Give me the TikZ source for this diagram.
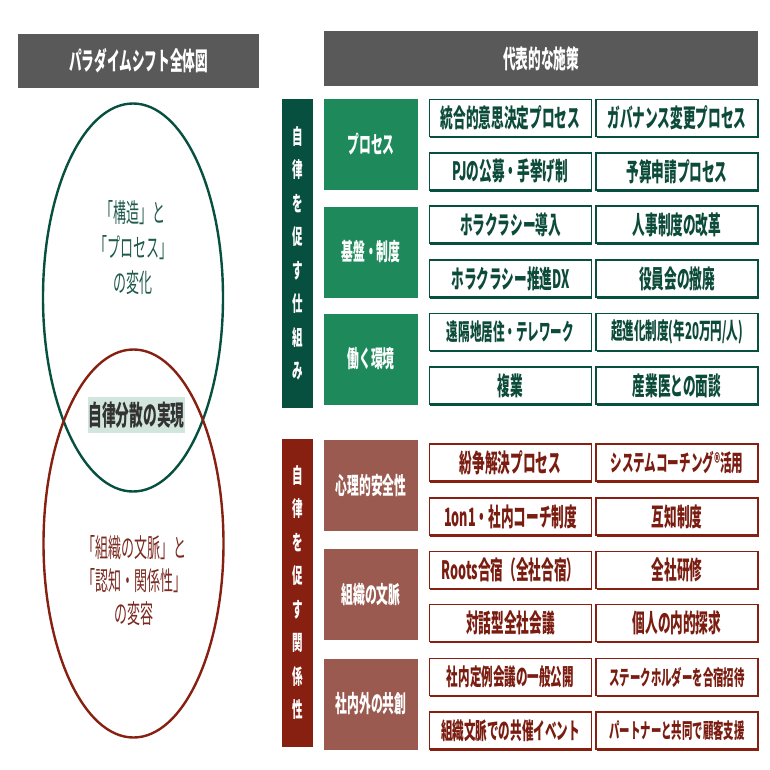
\documentclass[tikz,border=0pt]{standalone}
\usepackage{fontspec}
\setmainfont{Noto Sans CJK JP}[FakeStretch=0.5]
\usetikzlibrary{shapes.geometric,shadows}

\definecolor{grayhead}{HTML}{595959}
\definecolor{pinedark}{HTML}{07503F}
\definecolor{pinemid}{HTML}{1E8A5C}
\definecolor{pinetext}{HTML}{0C4A3A}
\definecolor{pineline}{HTML}{1F5A4C}
\definecolor{brickdark}{HTML}{872010}
\definecolor{brickmid}{HTML}{9B5A50}
\definecolor{bricktext}{HTML}{7A1C10}
\definecolor{brickline}{HTML}{7A2A20}
\definecolor{corefill}{HTML}{D2E6DE}

\newcommand\itemsm{\fontsize{23.1}{23.1}\selectfont}
\newcommand\itemxs{\fontsize{20.8}{20.8}\selectfont}

\begin{document}
\begin{tikzpicture}
[x=1pt, y=-1pt,
every node/.style = {inner sep=0pt, align=center},
headbox/.style = {fill=grayhead, text=white,
	font=\fontsize{25.3}{25.3}\selectfont\bfseries},
sidebar/.style = {minimum width=31pt, minimum height=308pt, text=white,
	font=\fontsize{21}{33.5}\selectfont\bfseries},
catbox/.style = {minimum width=94pt, minimum height=91pt, text=white,
	font=\fontsize{23.6}{23.6}\selectfont\bfseries},
itembox/.style = {fill=white, line width=1.1pt, minimum width=162pt,
	minimum height=37pt, font=\fontsize{25.3}{25.3}\selectfont\bfseries},
greenitem/.style = {itembox, draw=pinedark, text=pinetext,
	drop shadow={shadow xshift=0.5pt, shadow yshift=-1.5pt, opacity=1, fill=pinedark}},
reditem/.style = {itembox, draw=brickdark, text=bricktext,
	drop shadow={shadow xshift=0.5pt, shadow yshift=-1.5pt, opacity=1, fill=brickdark}},
loop/.style = {ellipse, draw=#1, line width=2.4pt, minimum width=180pt, minimum height=388pt},
]
\useasboundingbox (0,0) rectangle (770,770);

% headers
\node[headbox, minimum width=241pt, minimum height=54pt] (hdMap) at (138.5,61) {パラダイムシフト全体図};
\node[headbox, minimum width=434pt, minimum height=55pt] (hdMeasure) at (541,58.5) {代表的な施策};

% the two loops
\node[loop=pinedark] (loopGreen) at (133,297.5) {};
\node[loop=brickdark] (loopRed) at (133.5,543.5) {};
\node[text=pineline, font=\fontsize{26}{35}\selectfont] (txtGreen) at (133,248)
	{「構造」と\\「プロセス」\\の変化};
\node[text=brickline, font=\fontsize{26}{33}\selectfont] (txtRed) at (134,581)
	{「組織の文脈」と\\「認知・関係性」\\の変容};
\node[fill=corefill, text=black!80, minimum width=97pt, minimum height=36pt,
	font=\fontsize{27.5}{27.5}\selectfont\bfseries] (core) at (136.5,415) {自律分散の実現};

% side bars
\node[sidebar, fill=pinedark] (barGreen) at (297.5,253.5) {自\\律\\を\\促\\す\\仕\\組\\み};
\node[sidebar, fill=brickdark] (barRed) at (297.5,592.5) {自\\律\\を\\促\\す\\関\\係\\性};

% categories
\node[catbox, fill=pinemid] (catProc) at (371,144.5) {プロセス};
\node[catbox, fill=pinemid] (catBase) at (371,252) {基盤・制度};
\node[catbox, fill=pinemid] (catWork) at (371,359) {働く環境};
\node[catbox, fill=brickmid] (catSafe) at (371,485) {心理的安全性};
\node[catbox, fill=brickmid] (catCtx) at (371,594.5) {組織の文脈};
\node[catbox, fill=brickmid] (catCo) at (371,704) {社内外の共創};

% measures
\foreach \y/\lt/\rt [count=\i] in {
	118/統合的意思決定プロセス/ガバナンス変更プロセス,
	171.5/PJの公募・手挙げ制/予算申請プロセス,
	224.5/ホラクラシー導入/人事制度の改革,
	278.5/ホラクラシー推進DX/役員会の撤廃,
	332/{\itemsm 遠隔地居住・テレワーク}/{\itemsm 超進化制度(年20万円/人)},
	385.5/複業/産業医との面談}
{
	\node[greenitem] (gl\i) at (510.5,\y) {\lt};
	\node[greenitem] (gr\i) at (677,\y) {\rt};
}
\foreach \y/\lt/\rt [count=\i] in {
	462.5/紛争解決プロセス/{\itemsm システムコーチング®活用},
	516.5/1on1・社内コーチ制度/互知制度,
	570/Roots合宿（全社合宿）/全社研修,
	623/対話型全社会議/個人の内的探求,
	677/{\itemsm 社内定例会議の一般公開}/{\itemxs ステークホルダーを合宿招待},
	730.5/{\itemsm 組織文脈での共催イベント}/{\itemxs パートナーと共同で顧客支援}}
{
	\node[reditem] (rl\i) at (510.5,\y) {\lt};
	\node[reditem] (rr\i) at (677,\y) {\rt};
}

\end{tikzpicture}
\end{document}
